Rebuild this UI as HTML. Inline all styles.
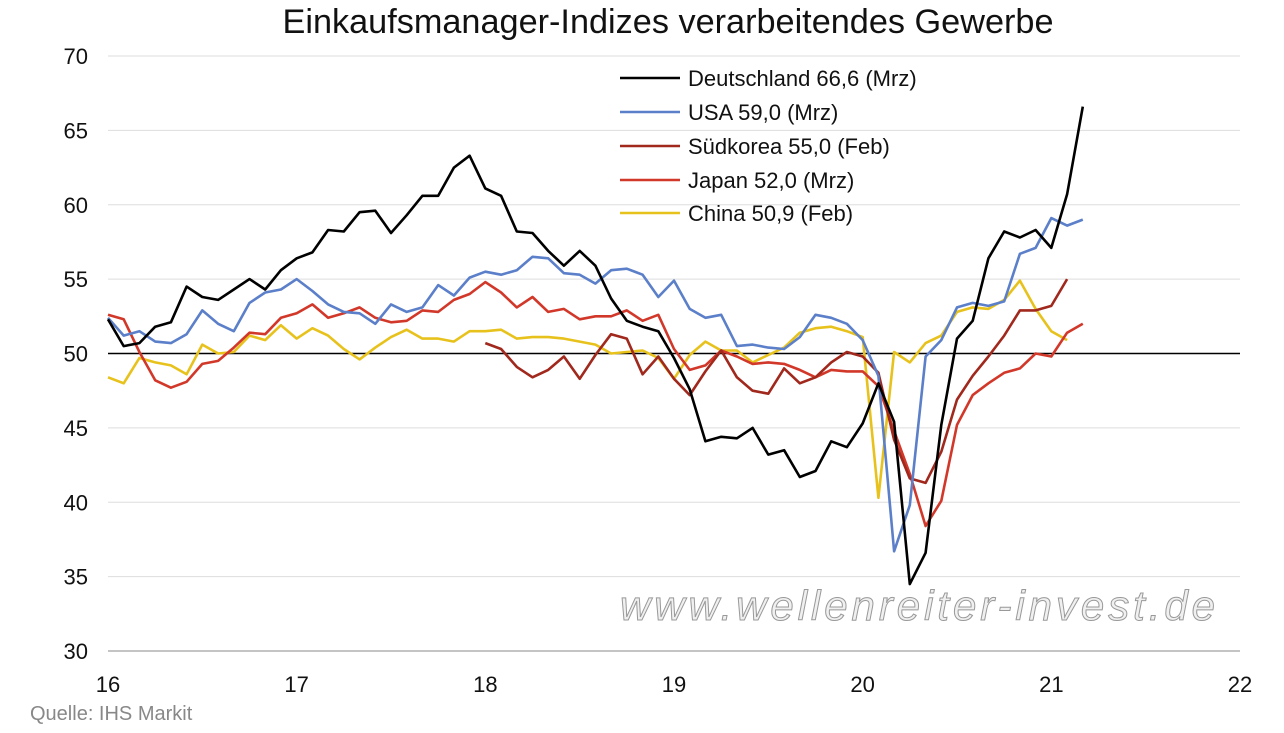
<!DOCTYPE html>
<html><head><meta charset="utf-8"><style>
body{margin:0;background:#fff;width:1284px;height:728px;overflow:hidden;font-family:"Liberation Sans",Arial,sans-serif}
</style></head><body>
<svg id="s" width="1284" height="728" xmlns="http://www.w3.org/2000/svg" font-family="Liberation Sans, Arial, sans-serif">
<text x="668" y="33" font-size="34" text-anchor="middle" fill="#111" textLength="771" lengthAdjust="spacingAndGlyphs">Einkaufsmanager-Indizes verarbeitendes Gewerbe</text>
<g id="grid"></g>
<text x="620" y="620" font-size="42" font-style="italic" fill="#f0f0f0" stroke="#999" stroke-width="1" textLength="595" lengthAdjust="spacing">www.wellenreiter-invest.de</text>
<g id="lines" fill="none" stroke-width="2.6" stroke-linejoin="round"></g>
<g font-size="22" fill="#111">
<line x1="620" y1="78" x2="680" y2="78" stroke="#000" stroke-width="2.5"/><text x="688" y="86">Deutschland 66,6 (Mrz)</text>
<line x1="620" y1="112" x2="680" y2="112" stroke="#5b7fc9" stroke-width="2.5"/><text x="688" y="120">USA 59,0 (Mrz)</text>
<line x1="620" y1="146" x2="680" y2="146" stroke="#a0281c" stroke-width="2.5"/><text x="688" y="154">Südkorea 55,0 (Feb)</text>
<line x1="620" y1="180" x2="680" y2="180" stroke="#d2382a" stroke-width="2.5"/><text x="688" y="188">Japan 52,0 (Mrz)</text>
<line x1="620" y1="213" x2="680" y2="213" stroke="#e8c21c" stroke-width="2.5"/><text x="688" y="221">China 50,9 (Feb)</text>
</g>
<text x="30" y="720" font-size="20" fill="#888">Quelle: IHS Markit</text>
</svg>
<script>
var s=document.getElementById('grid'),L=document.getElementById('lines');
function X(m){return 108+m*1132/72}function Y(v){return 353.5-(v-50)*14.875}
var h='';
for(var v=30;v<=70;v+=5){var y=Y(v);h+='<line x1="108" x2="1240" y1="'+y+'" y2="'+y+'" stroke="'+(v==50?'#000':(v==30?'#888':'#ddd'))+'" stroke-width="'+(v==50?1.5:1)+'"/>';
h+='<text x="88" y="'+(y+8)+'" font-size="22" text-anchor="end" fill="#111">'+v+'</text>';}
for(var yr=16;yr<=22;yr++){h+='<text x="'+X((yr-16)*12)+'" y="692" font-size="22" text-anchor="middle" fill="#111">'+yr+'</text>';}
s.innerHTML=h;
var D={
'#000':[0,[52.3,50.5,50.7,51.8,52.1,54.5,53.8,53.6,54.3,55.0,54.3,55.6,56.4,56.8,58.3,58.2,59.5,59.6,58.1,59.3,60.6,60.6,62.5,63.3,61.1,60.6,58.2,58.1,56.9,55.9,56.9,55.9,53.7,52.2,51.8,51.5,49.7,47.6,44.1,44.4,44.3,45.0,43.2,43.5,41.7,42.1,44.1,43.7,45.3,48.0,45.4,34.5,36.6,45.2,51.0,52.2,56.4,58.2,57.8,58.3,57.1,60.7,66.6]],
'#5b7fc9':[0,[52.4,51.2,51.5,50.8,50.7,51.3,52.9,52.0,51.5,53.4,54.1,54.3,55.0,54.2,53.3,52.8,52.7,52.0,53.3,52.8,53.1,54.6,53.9,55.1,55.5,55.3,55.6,56.5,56.4,55.4,55.3,54.7,55.6,55.7,55.3,53.8,54.9,53.0,52.4,52.6,50.5,50.6,50.4,50.3,51.1,52.6,52.4,52.0,50.9,48.5,36.7,39.8,49.8,50.9,53.1,53.4,53.2,53.5,56.7,57.1,59.1,58.6,59.0]],
'#a0281c':[24,[50.7,50.3,49.1,48.4,48.9,49.8,48.3,49.9,51.3,51.0,48.6,49.8,48.3,47.2,48.8,50.2,48.4,47.5,47.3,49.0,48.0,48.4,49.4,50.1,49.8,48.7,44.2,41.6,41.3,43.4,46.9,48.5,49.8,51.2,52.9,52.9,53.2,55.0]],
'#d2382a':[0,[52.6,52.3,50.1,48.2,47.7,48.1,49.3,49.5,50.4,51.4,51.3,52.4,52.7,53.3,52.4,52.7,53.1,52.4,52.1,52.2,52.9,52.8,53.6,54.0,54.8,54.1,53.1,53.8,52.8,53.0,52.3,52.5,52.5,52.9,52.2,52.6,50.3,48.9,49.2,50.2,49.8,49.3,49.4,49.3,48.9,48.4,48.9,48.8,48.8,47.8,44.8,41.9,38.4,40.1,45.2,47.2,48.0,48.7,49.0,50.0,49.8,51.4,52.0]],
'#e8c21c':[0,[48.4,48.0,49.7,49.4,49.2,48.6,50.6,50.0,50.1,51.2,50.9,51.9,51.0,51.7,51.2,50.3,49.6,50.4,51.1,51.6,51.0,51.0,50.8,51.5,51.5,51.6,51.0,51.1,51.1,51.0,50.8,50.6,50.0,50.1,50.2,49.7,48.3,49.9,50.8,50.2,50.2,49.4,49.9,50.4,51.4,51.7,51.8,51.5,51.1,40.3,50.1,49.4,50.7,51.2,52.8,53.1,53.0,53.6,54.9,53.0,51.5,50.9]]};
var order=['#e8c21c','#d2382a','#a0281c','#5b7fc9','#000'],g='';
order.forEach(function(c){var o=D[c][0],a=D[c][1],p=a.map(function(v,i){return X(o+i).toFixed(1)+','+Y(v).toFixed(1)}).join(' ');
g+='<polyline points="'+p+'" stroke="'+c+'"/>';});
L.innerHTML=g;
</script>
</body></html>
